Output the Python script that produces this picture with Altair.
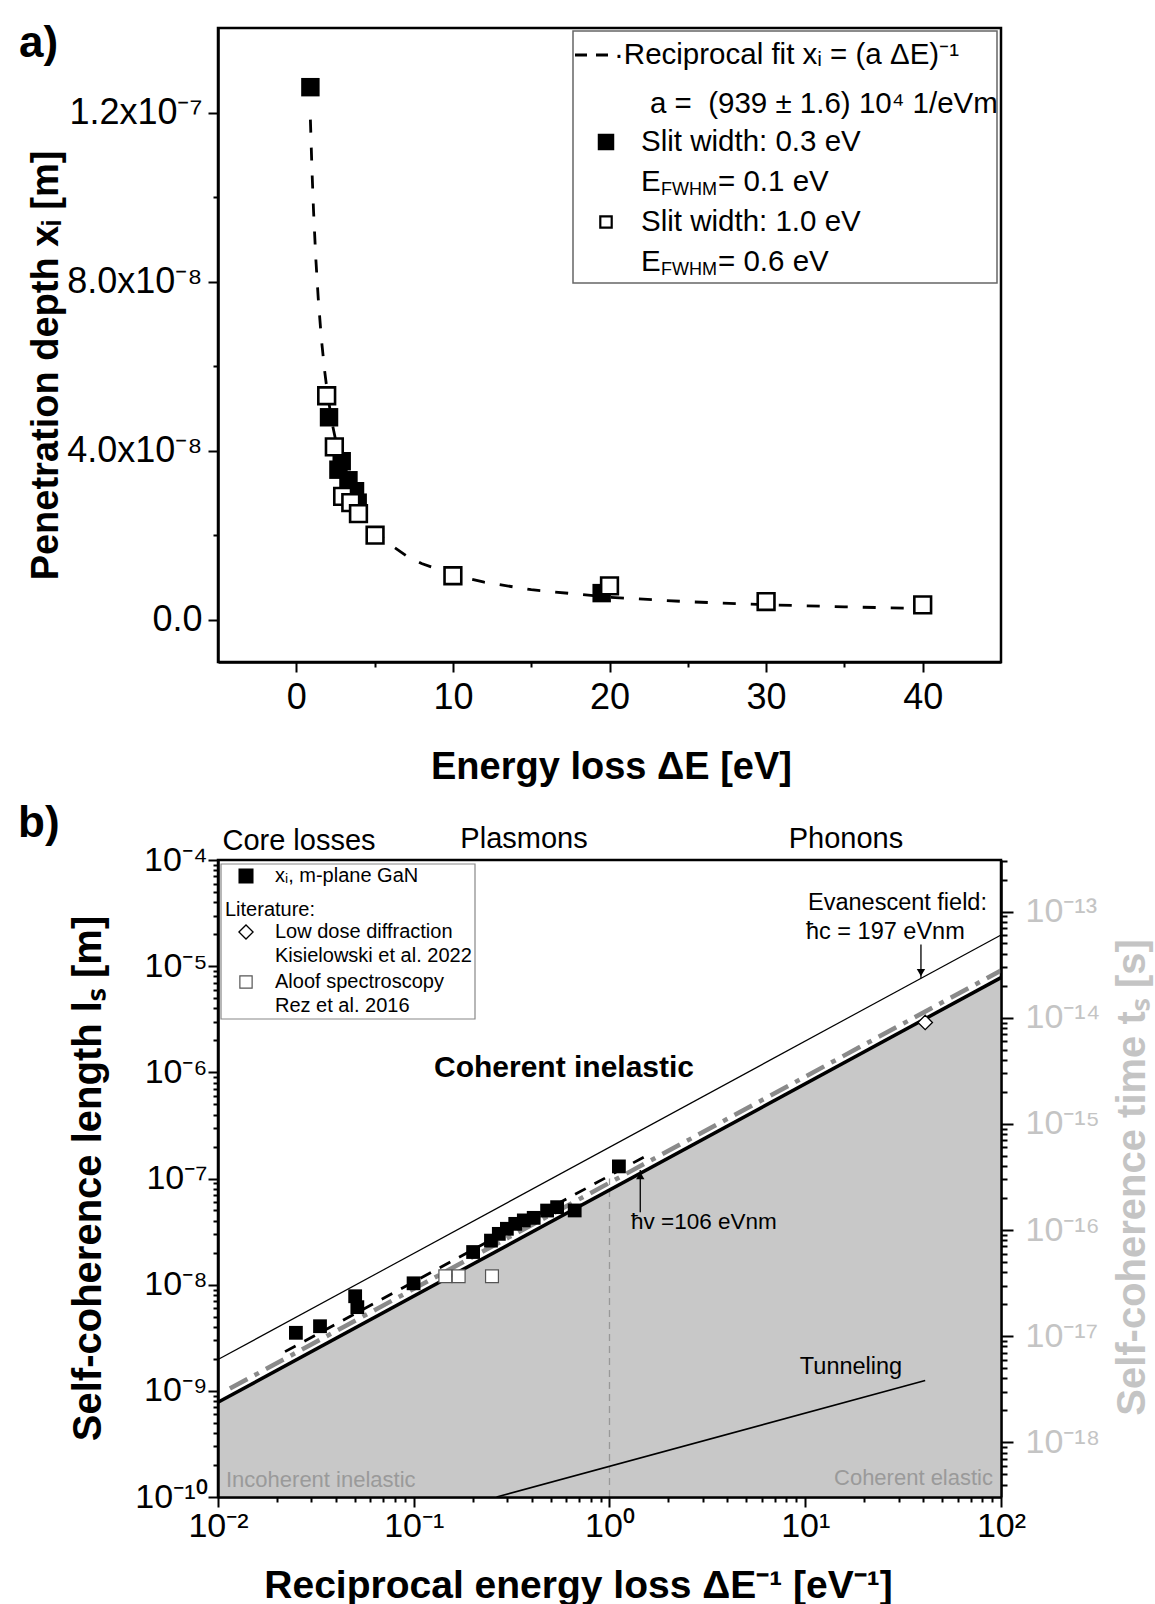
import altair as alt
import pandas as pd

FONT = "Liberation Sans"

# ---------------- Panel a data ----------------
a_filled_dE = [0.9, 2.09, 2.69, 2.90, 3.33, 3.75, 3.92, 19.5]
a_filled_xi = [1.26e-7, 4.79e-8, 3.55e-8, 3.75e-8, 3.30e-8, 3.04e-8, 2.77e-8, 6.3e-9]
a_open_dE = [1.94, 2.43, 2.96, 3.48, 3.97, 5.03, 10.0, 20.0, 30.0, 40.0]
a_open_xi = [5.30e-8, 4.09e-8, 2.92e-8, 2.77e-8, 2.51e-8, 2.0e-8, 1.04e-8, 8.0e-9, 4.3e-9, 3.5e-9]
fit_a = 939e4  # 1/(eV m), from the legend
fit_dE = [0.9, 1.0, 1.1, 1.25, 1.4, 1.6, 1.8, 2.0, 2.3, 2.6, 3.0, 3.5, 4.0, 5.0, 6.0,
          7.0, 8.0, 10.0, 12.0, 15.0, 20.0, 25.0, 30.0, 35.0, 40.0]
a_x_ticks = [0, 5, 10, 15, 20, 25, 30, 35, 40]
a_y_ticks = [0.0, 2e-8, 4e-8, 6e-8, 8e-8, 1e-7, 1.2e-7]
a_y_labels = {0.0: "0.0", 4e-8: "4.0x10⁻⁸", 8e-8: "8.0x10⁻⁸", 1.2e-7: "1.2x10⁻⁷"}

# ---------------- Panel b data ----------------
b_gan_inv = [0.025, 0.0332, 0.0502, 0.0515, 0.0998, 0.201, 0.248, 0.272, 0.299, 0.330,
             0.365, 0.41, 0.48, 0.54, 0.664, 1.117]
b_gan_l = [3.52e-9, 4.06e-9, 7.78e-9, 6.14e-9, 1.03e-8, 2.03e-8, 2.6e-8, 3.01e-8, 3.36e-8,
           3.74e-8, 4.03e-8, 4.26e-8, 4.99e-8, 5.37e-8, 5.0e-8, 1.3e-7]
rez_inv = [0.145, 0.1696, 0.251]
rez_l = [1.2e-8, 1.2e-8, 1.2e-8]
kis_inv = [41.0]
kis_l = [2.95e-6]

evan_x = [0.01, 100.0]
evan_y = [1.97e-9, 1.97e-5]
bound_x = [0.01, 100.0]
bound_y = [7.8e-10, 7.8e-6]
grey_x = [0.0115, 100.0]
grey_y = [1.05e-9, 9.1e-6]
fitb_x = [0.022, 1.6]
fitb_y = [2.34e-9, 1.70e-7]
tunnel_x = [0.265, 41.0]
tunnel_y = [1e-10, 1.25e-9]
vline_x = [1.0]
vline_lo = [1e-10]
vline_hi = [1e-7]
arrow_c_x = [39.0]
arrow_c_y = [1.6e-5, 7.7e-6]
arrow_v_x = [1.436]
arrow_v_y = [4.8e-8, 1.2e-7]

v_time = 3.27e8  # m/s, length -> time conversion of right axis
b_l_domain = [1e-10, 1e-4]
b_t_domain = [b_l_domain[0] / v_time, b_l_domain[1] / v_time]

SUP = str.maketrans("-0123456789", "⁻⁰¹²³⁴⁵⁶⁷⁸⁹")


def pow10(n):
    return "10" + str(n).translate(SUP)


def chain_rel(pairs):
    expr = "''"
    for v, lab in reversed(pairs):
        expr = f"abs(datum.value / ({v!r}) - 1) < 1e-3 ? '{lab}' : ({expr})"
    return expr


def chain_abs(pairs):
    expr = "''"
    for v, lab in reversed(pairs):
        expr = f"abs(datum.value - ({v!r})) < 1e-12 ? '{lab}' : ({expr})"
    return expr


def tick_size(test, major, minor):
    return {"condition": {"test": test, "value": major}, "value": minor}


LOGMAJ = "abs(log(datum.value)/LN10 - round(log(datum.value)/LN10)) < 0.01"

W = 783
HA = 634
HB = 637

dummy = pd.DataFrame({"d": [0]})


def txt(s, x, y, size, color="black", weight="normal", align="left", baseline="middle"):
    return alt.Chart(dummy).mark_text(
        text=s, fontSize=size, color=color, fontWeight=weight, align=align,
        baseline=baseline, font=FONT
    ).encode(x=alt.value(x), y=alt.value(y))


def sq(x, y, size, filled=True, sw=2.0, stroke="black", shape="square"):
    return alt.Chart(dummy).mark_point(
        shape=shape, size=size, filled=True, fill=("black" if filled else "white"),
        stroke=stroke, strokeWidth=sw, opacity=1
    ).encode(x=alt.value(x), y=alt.value(y))


def box(x1, y1, x2, y2, stroke="#666", sw=1.5):
    return alt.Chart(dummy).mark_rect(fill="white", stroke=stroke, strokeWidth=sw).encode(
        x=alt.value(x1), x2=alt.value(x2), y=alt.value(y1), y2=alt.value(y2))


# ================= Panel a =================
xa = alt.X("dE:Q", scale=alt.Scale(domain=[-5, 45], nice=False, zero=False),
           axis=alt.Axis(values=a_x_ticks,
                         labelExpr="datum.value % 10 == 0 ? format(datum.value, 'd') : ''",
                         tickSize=tick_size("datum.value % 10 == 0", 10, 5),
                         tickWidth=2, labelFontSize=36, labelPadding=8, grid=False, zindex=1,
                         labelFlush=False,
                         domainWidth=2.5, domainColor="black", tickColor="black",
                         labelFont=FONT, titleFont=FONT,
                         title="Energy loss ΔE [eV]", titleFontSize=38, titleFontWeight="bold",
                         titleX=393, titleY=105, titleBaseline="middle", titleAlign="center"))
ya = alt.Y("xi:Q", scale=alt.Scale(domain=[-1e-8, 1.4e-7], nice=False, zero=False),
           axis=alt.Axis(values=a_y_ticks,
                         labelExpr=chain_abs(list(a_y_labels.items())),
                         tickSize=tick_size("abs(datum.value/4e-8 - round(datum.value/4e-8)) < 1e-6", 10, 5),
                         tickWidth=2, labelFontSize=36, labelPadding=6, grid=False, zindex=1,
                         labelFlush=False,
                         domainWidth=2.5, domainColor="black", tickColor="black",
                         labelFont=FONT, titleFont=FONT,
                         title="Penetration depth xᵢ [m]", titleFontSize=38, titleFontWeight="bold",
                         titleX=-172, titleY=337, titleBaseline="middle", titleAlign="center",
                         titleAngle=270))

fit_line_a = alt.Chart(pd.DataFrame({"dE": fit_dE})).transform_calculate(
    xi=f"1/({fit_a}*datum.dE)"
).mark_line(color="black", strokeWidth=2.8, strokeDash=[13, 15]).encode(x=xa, y=ya)

filled_a = alt.Chart(pd.DataFrame({"dE": a_filled_dE, "xi": a_filled_xi})).mark_point(
    shape="square", size=340, filled=True, color="black", opacity=1).encode(x=xa, y=ya)
open_a = alt.Chart(pd.DataFrame({"dE": a_open_dE, "xi": a_open_xi})).mark_point(
    shape="square", size=280, filled=True, fill="white", stroke="black", strokeWidth=2.6,
    opacity=1).encode(x=xa, y=ya)

leg_a = [
    box(355, 3, 779, 255),
    alt.Chart(dummy).mark_rule(color="black", strokeWidth=2.8, strokeDash=[12, 9]).encode(
        x=alt.value(357), x2=alt.value(393), y=alt.value(27)),
    txt("·Reciprocal fit xᵢ = (a ΔE)⁻¹", 396, 27, 29.5),
    txt("a =\u00a0 (939 ± 1.6) 10⁴ 1/eVm", 432, 76, 29.5),
    sq(388, 114, 210, True),
    txt("Slit width: 0.3 eV", 423, 114, 29.5),
    txt("E", 423, 154, 29.5),
    txt("FWHM", 443, 162, 18),
    txt("= 0.1 eV", 500, 154, 29.5),
    sq(388, 194, 130, False, 2.2),
    txt("Slit width: 1.0 eV", 423, 194, 29.5),
    txt("E", 423, 234, 29.5),
    txt("FWHM", 443, 242, 18),
    txt("= 0.6 eV", 500, 234, 29.5),
    txt("a)", -199, 16, 44, weight="bold"),
]

panel_a = alt.layer(fit_line_a, filled_a, open_a, *leg_a).properties(width=W, height=HA)

# ================= Panel b =================
b_x_major = [0.01, 0.1, 1.0, 10.0, 100.0]
b_x_vals = b_x_major + [k * 10.0 ** n for n in range(-2, 2) for k in range(2, 10)]
b_x_labels = [(v, pow10(n)) for v, n in zip(b_x_major, range(-2, 3))]
b_y_major = [10.0 ** n for n in range(-10, -3)]
b_y_vals = b_y_major + [k * 10.0 ** n for n in range(-10, -4) for k in range(2, 10)]
b_y_labels = [(10.0 ** n, pow10(n)) for n in range(-10, -3)]
t_major = [10.0 ** n for n in range(-18, -12)]
t_vals = t_major + [k * 10.0 ** n for n in range(-19, -12) for k in range(2, 10)
                    if b_t_domain[0] <= k * 10.0 ** n <= b_t_domain[1]]
t_labels = [(10.0 ** n, pow10(n)) for n in range(-18, -12)]

xb = alt.X("inv:Q", scale=alt.Scale(type="log", domain=[0.01, 100], nice=False),
           axis=alt.Axis(values=b_x_vals, labelExpr=chain_rel(b_x_labels),
                         tickSize=tick_size(LOGMAJ, 10, 5), tickWidth=2,
                         labelFontSize=34, labelPadding=2, grid=False, zindex=1,
                         labelFlush=False,
                         domainWidth=2.5, domainColor="black", tickColor="black",
                         labelFont=FONT, titleFont=FONT,
                         title="Reciprocal energy loss ΔE⁻¹ [eV⁻¹]", titleFontSize=39,
                         titleFontWeight="bold", titleX=360, titleY=100,
                         titleBaseline="alphabetic", titleAlign="center"))
yb = alt.Y("l:Q", scale=alt.Scale(type="log", domain=b_l_domain, nice=False),
           axis=alt.Axis(values=b_y_vals, labelExpr=chain_rel(b_y_labels),
                         tickSize=tick_size(LOGMAJ, 10, 5), tickWidth=2,
                         labelFontSize=34, labelPadding=1, grid=False, zindex=1,
                         labelFlush=False,
                         domainWidth=2.5, domainColor="black", tickColor="black",
                         labelFont=FONT, titleFont=FONT,
                         title="Self-coherence length lₛ [m]", titleFontSize=40,
                         titleFontWeight="bold", titleX=-130, titleY=318,
                         titleBaseline="middle", titleAlign="center", titleAngle=270))
yt = alt.Y("t:Q", scale=alt.Scale(type="log", domain=b_t_domain, nice=False),
           axis=alt.Axis(orient="right", values=t_vals, labelExpr=chain_rel(t_labels),
                         tickSize=tick_size(LOGMAJ, 12, 6), tickWidth=2,
                         labelFontSize=34, labelPadding=12, grid=False, zindex=1,
                         labelFlush=False,
                         domainWidth=2.5, domainColor="black", tickColor="black",
                         labelColor="#c4c4c4", titleColor="#c4c4c4",
                         labelFont=FONT, titleFont=FONT,
                         title="Self-coherence time tₛ [s]", titleFontSize=40,
                         titleFontWeight="bold", titleX=131, titleY=317,
                         titleBaseline="middle", titleAlign="center", titleAngle=270))

area_b = alt.Chart(pd.DataFrame({"inv": bound_x, "l": bound_y, "base": [b_l_domain[0]] * 2})).mark_area(
    color="#c8c8c8", opacity=1).encode(x=xb, y=yb, y2="base:Q")
vline_b = alt.Chart(pd.DataFrame({"inv": vline_x, "l": vline_lo, "l2": vline_hi})).mark_rule(
    color="#999999", strokeWidth=1.3, strokeDash=[7, 5]).encode(x=xb, y=yb, y2="l2:Q")
tunnel_b = alt.Chart(pd.DataFrame({"inv": tunnel_x, "l": tunnel_y})).mark_line(
    color="black", strokeWidth=1.6).encode(x=xb, y=yb)
evan_b = alt.Chart(pd.DataFrame({"inv": evan_x, "l": evan_y})).mark_line(
    color="black", strokeWidth=1.2).encode(x=xb, y=yb)
bound_b = alt.Chart(pd.DataFrame({"inv": bound_x, "l": bound_y})).mark_line(
    color="black", strokeWidth=3.5).encode(x=xb, y=yb)
grey_b = alt.Chart(pd.DataFrame({"inv": grey_x, "l": grey_y})).mark_line(
    color="#8a8a8a", strokeWidth=4.5, strokeDash=[20, 8, 5, 8]).encode(x=xb, y=yb)
fitb_b = alt.Chart(pd.DataFrame({"inv": fitb_x, "l": fitb_y})).mark_line(
    color="black", strokeWidth=2.8, strokeDash=[12, 10]).encode(x=xb, y=yb)
gan_b = alt.Chart(pd.DataFrame({"inv": b_gan_inv, "l": b_gan_l})).mark_point(
    shape="square", size=190, filled=True, color="black", opacity=1).encode(x=xb, y=yb)
rez_b = alt.Chart(pd.DataFrame({"inv": rez_inv, "l": rez_l})).mark_point(
    shape="square", size=165, filled=True, fill="white", stroke="#555555", strokeWidth=1.2,
    opacity=1).encode(x=xb, y=yb)
kis_b = alt.Chart(pd.DataFrame({"inv": kis_inv, "l": kis_l})).mark_point(
    shape="diamond", size=210, filled=True, fill="white", stroke="black", strokeWidth=1.3,
    opacity=1).encode(x=xb, y=yb)

arr_c = alt.Chart(pd.DataFrame({"inv": arrow_c_x * 2, "l": arrow_c_y})).mark_line(
    color="black", strokeWidth=1.3).encode(x=xb, y=yb)
arr_c_head = alt.Chart(pd.DataFrame({"inv": arrow_c_x, "l": [arrow_c_y[1] * 1.13]})).mark_point(
    shape="triangle-down", size=70, filled=True, color="black", opacity=1).encode(x=xb, y=yb)
arr_v = alt.Chart(pd.DataFrame({"inv": arrow_v_x * 2, "l": arrow_v_y})).mark_line(
    color="black", strokeWidth=1.3).encode(x=xb, y=yb)
arr_v_head = alt.Chart(pd.DataFrame({"inv": arrow_v_x, "l": [arrow_v_y[1] / 1.13]})).mark_point(
    shape="triangle-up", size=70, filled=True, color="black", opacity=1).encode(x=xb, y=yb)

ann_b = [
    box(3, 4, 257, 159, stroke="#888888", sw=1.2),
    sq(28, 16, 170, True),
    txt("xᵢ, m-plane GaN", 57, 16, 20),
    txt("Literature:", 7, 50, 20),
    sq(28, 72, 200, False, 1.3, shape="diamond"),
    txt("Low dose diffraction", 57, 72, 20),
    txt("Kisielowski et al. 2022", 57, 96, 20),
    sq(28, 122, 150, False, 1.2, stroke="#555555"),
    txt("Aloof spectroscopy", 57, 122, 20),
    txt("Rez et al. 2016", 57, 146, 20),
    txt("Core losses", 81, -19, 29, align="center"),
    txt("Plasmons", 306, -21, 29, align="center"),
    txt("Phonons", 628, -21, 29, align="center"),
    txt("Evanescent field:", 590, 43, 23.5),
    txt("ħc = 197 eVnm", 588, 72, 23.5),
    txt("Coherent inelastic", 346, 208, 30, weight="bold", align="center"),
    txt("ħv =106 eVnm", 413, 362, 22.5),
    txt("Tunneling", 633, 507, 23.5, align="center"),
    txt("Incoherent inelastic", 8, 620, 22, color="#9a9a9a"),
    txt("Coherent elastic", 775, 618, 22, color="#9a9a9a", align="right"),
    txt("b)", -200, -36, 44, weight="bold"),
]

left_b = alt.layer(area_b, vline_b, tunnel_b, evan_b, bound_b, grey_b, fitb_b,
                   arr_c, arr_c_head, arr_v, arr_v_head,
                   gan_b, rez_b, kis_b, *ann_b)
right_b = alt.Chart(pd.DataFrame({"t": b_t_domain})).mark_point(opacity=0).encode(y=yt)

panel_b = alt.layer(left_b, right_b).resolve_scale(y="independent").properties(width=W, height=HB)

chart = alt.vconcat(panel_a, panel_b, spacing=12,
                    padding={"left": 16, "top": 20, "right": 0, "bottom": 0}).configure(
    font=FONT).configure_view(stroke="black", strokeWidth=2.5)

chart.save("out.html", embed_options={"renderer": "svg", "actions": False})
